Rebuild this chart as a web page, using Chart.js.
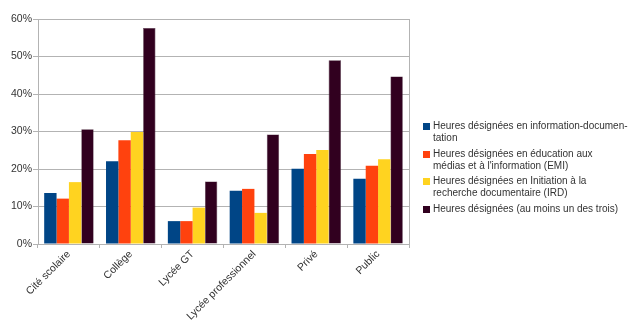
<!DOCTYPE html>
<html lang="fr">
<head>
<meta charset="utf-8">
<script src="https://cdn.jsdelivr.net/npm/chart.js@4/dist/chart.umd.min.js"></script>
<style>
  html, body { margin: 0; padding: 0; background: #fff; }
  #wrap { position: relative; width: 630px; height: 328px; }
  #c { position: absolute; left: 0; top: 0; }
  #legend { position: absolute; left: 423px; top: 120px; font-family: "Liberation Sans", Arial, sans-serif; font-size: 10px; color: #333; }
  .item { position: relative; padding-left: 10px; line-height: 12px; margin-bottom: 3.5px; white-space: nowrap; }
  .sw { position: absolute; left: 0; top: 3px; width: 7px; height: 7px; }
</style>
</head>
<body>
<div id="wrap">
  <canvas id="c" width="630" height="328"></canvas>
  <div id="legend"></div>
</div>
<script>
// Catégories d'établissement
const categories = ["Cité scolaire", "Collège", "Lycée GT", "Lycée professionnel", "Privé", "Public"];

// Part des établissements (%) par type d'heures désignées
const infoDoc   = [13.6, 22.1, 6.1, 14.2, 20.1, 17.4];
const emi       = [12.1, 27.7, 6.1, 14.7, 24.0, 20.9];
const ird       = [16.5, 29.9, 9.7, 8.3, 25.1, 22.6];
const auMoinsUn = [30.6, 57.6, 16.7, 29.2, 49.0, 44.7];

// Libellés de légende (avec retours à la ligne)
const seriesLabels = [
  ["Heures désignées en information-documen-", "tation"],
  ["Heures désignées en éducation aux", "médias et à l'information (EMI)"],
  ["Heures désignées en Initiation à la", "recherche documentaire (IRD)"],
  ["Heures désignées (au moins un des trois)"]
];
const seriesColors = ["#004586", "#ff420e", "#ffd320", "#31001f"];
const yTicks = [0, 10, 20, 30, 40, 50, 60];

const seriesData = [infoDoc, emi, ird, auMoinsUn];

const gridColor = "#b3b3b3";

// Bordure droite de la zone de tracé
const rightBorder = {
  id: "rightBorder",
  afterDraw(chart) {
    const { ctx, chartArea } = chart;
    ctx.save();
    ctx.strokeStyle = gridColor;
    ctx.lineWidth = 1;
    ctx.beginPath();
    const x = Math.round(chartArea.right) + 0.5;
    ctx.moveTo(x, chartArea.top);
    ctx.lineTo(x, chartArea.bottom);
    ctx.stroke();
    ctx.restore();
  }
};

new Chart(document.getElementById("c"), {
  type: "bar",
  data: {
    labels: categories,
    datasets: seriesData.map((d, i) => ({
      label: seriesLabels[i].join(" "),
      data: d,
      backgroundColor: seriesColors[i],
      borderColor: i === 3 ? "#4a2a3f" : seriesColors[i],
      borderWidth: i === 3 ? 0.6 : 0,
      categoryPercentage: 0.8,
      barPercentage: 1.0
    }))
  },
  options: {
    responsive: false,
    animation: false,
    devicePixelRatio: 1,
    layout: { padding: { top: 19, right: 221, bottom: 0, left: 0 } },
    plugins: { legend: { display: false }, tooltip: { enabled: false } },
    scales: {
      x: {
        grid: { offset: true, drawOnChartArea: false, drawTicks: true, tickLength: 4, color: gridColor },
        border: { color: gridColor },
        ticks: {
          color: "#333",
          font: { family: "Liberation Sans", size: 10.5 },
          minRotation: 45,
          maxRotation: 45,
          padding: 0
        },
        afterFit(scale) { scale.height = 84; }
      },
      y: {
        min: 0,
        max: 60,
        afterBuildTicks(scale) { scale.ticks = yTicks.map(v => ({ value: v })); },
        grid: { color: gridColor, tickLength: 5 },
        border: { color: gridColor },
        ticks: {
          color: "#333",
          font: { family: "Liberation Sans", size: 10.5 },
          padding: 1,
          callback: v => v + "%"
        },
        afterFit(scale) { scale.width = 38; }
      }
    }
  },
  plugins: [rightBorder]
});

// Légende HTML
const legend = document.getElementById("legend");
seriesLabels.forEach((lines, i) => {
  const it = document.createElement("div");
  it.className = "item";
  const sw = document.createElement("span");
  sw.className = "sw";
  sw.style.background = seriesColors[i];
  it.appendChild(sw);
  lines.forEach((t, k) => {
    if (k) it.appendChild(document.createElement("br"));
    it.appendChild(document.createTextNode(t));
  });
  legend.appendChild(it);
});
</script>
</body>
</html>
